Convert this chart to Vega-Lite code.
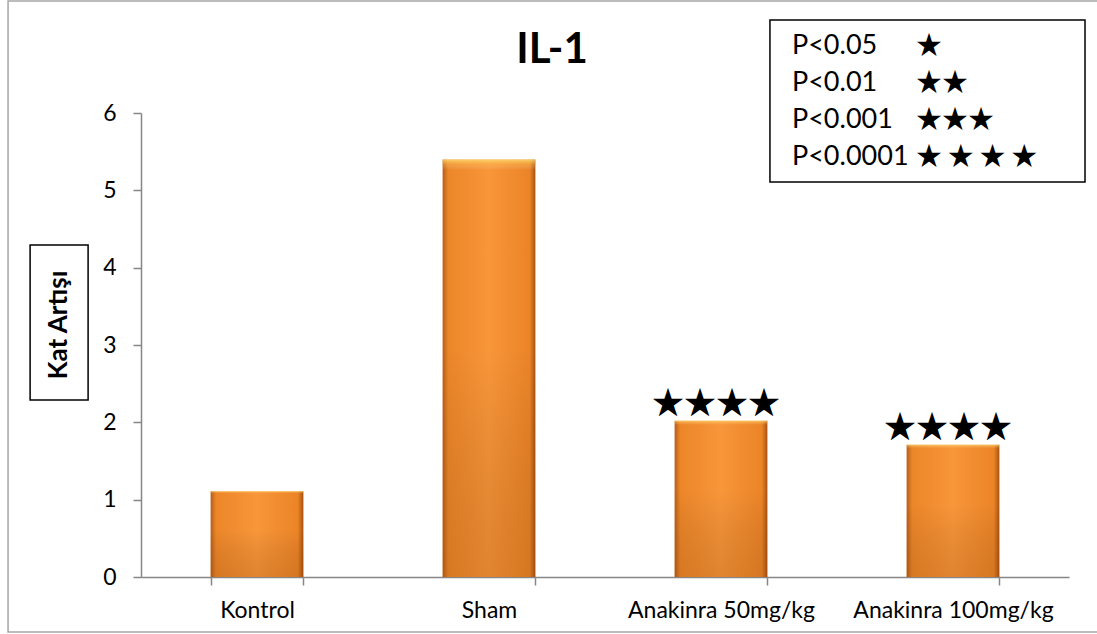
{
  "$schema": "https://vega.github.io/schema/vega-lite/v6.json",
  "width": 928,
  "height": 464,
  "autosize": {"type": "none"},
  "padding": {"left": 141, "top": 113, "right": 28, "bottom": 57},
  "background": "white",
  "config": {
    "view": {"stroke": null},
    "font": "Lato",
    "axis": {
      "domainColor": "#868686",
      "tickColor": "#868686",
      "domainWidth": 1.5,
      "tickWidth": 1.5,
      "tickSize": 8,
      "labelFont": "Lato",
      "labelFontSize": 23,
      "labelLimit": 0,
      "labelColor": "#000000",
      "grid": false,
      "title": null
    }
  },
  "datasets": {
    "bars": [
      {"group": "Kontrol", "value": 1.11, "stars": ""},
      {"group": "Sham", "value": 5.4, "stars": ""},
      {"group": "Anakinra 50mg/kg", "value": 2.02, "stars": "★★★★"},
      {"group": "Anakinra 100mg/kg", "value": 1.71, "stars": "★★★★"}
    ],
    "legend": [
      {"label": "P<0.05", "stars": "★"},
      {"label": "P<0.01", "stars": "★★"},
      {"label": "P<0.001", "stars": "★★★"},
      {"label": "P<0.0001", "stars": "★ ★ ★ ★"}
    ],
    "one": [{"title": "IL-1", "ytitle": "Kat Artışı"}]
  },
  "layer": [
    {
      "data": {"name": "one"},
      "mark": {"type": "rect", "fill": null, "stroke": "#A6A6A6", "strokeWidth": 1.5},
      "encoding": {
        "x": {"datum": -0.573, "type": "quantitative", "scale": {"domain": [0, 4], "nice": false, "zero": false}, "axis": null},
        "x2": {"datum": 4.3},
        "y": {"datum": 7.448, "type": "quantitative", "scale": {"domain": [0, 6], "nice": false, "zero": false}, "axis": null},
        "y2": {"datum": -0.711}
      }
    },
    {
      "data": {"name": "bars"},
      "mark": {
        "type": "bar",
        "color": {
          "gradient": "linear", "x1": 0, "y1": 0, "x2": 1, "y2": 0,
          "stops": [
            {"offset": 0, "color": "#B95D16"},
            {"offset": 0.06, "color": "#EC8629"},
            {"offset": 0.5, "color": "#F8963A"},
            {"offset": 0.94, "color": "#EB8427"},
            {"offset": 1, "color": "#A9520F"}
          ]
        }
      },
      "encoding": {
        "x": {
          "field": "group", "type": "nominal", "sort": null,
          "scale": {"paddingInner": 0.6, "paddingOuter": 0.3},
          "axis": {"tickBand": "extent", "labelAngle": 0, "labelPadding": 14}
        },
        "y": {
          "field": "value", "type": "quantitative",
          "scale": {"domain": [0, 6], "nice": false},
          "axis": {"values": [0, 1, 2, 3, 4, 5, 6], "labelPadding": 17}
        }
      }
    },
    {
      "data": {"name": "bars"},
      "mark": {
        "type": "bar",
        "color": {
          "gradient": "linear", "x1": 0, "y1": 0, "x2": 0, "y2": 1,
          "stops": [
            {"offset": 0, "color": "rgba(255,225,120,0.8)"},
            {"offset": 0.012, "color": "rgba(255,210,100,0.3)"},
            {"offset": 0.025, "color": "rgba(255,255,255,0)"},
            {"offset": 0.45, "color": "rgba(0,0,0,0)"},
            {"offset": 1, "color": "rgba(110,45,0,0.16)"}
          ]
        }
      },
      "encoding": {
        "x": {"field": "group", "type": "nominal", "sort": null, "scale": {"paddingInner": 0.6, "paddingOuter": 0.3}, "axis": null},
        "y": {"field": "value", "type": "quantitative", "scale": {"domain": [0, 6], "nice": false}, "axis": null}
      }
    },
    {
      "data": {"name": "bars"},
      "mark": {"type": "text", "font": "Noto Sans CJK JP", "fontSize": 32, "baseline": "alphabetic", "dy": -7, "dx": -5, "color": "#000000"},
      "encoding": {
        "x": {"field": "group", "type": "nominal", "sort": null, "scale": {"paddingInner": 0.6, "paddingOuter": 0.3}, "axis": null},
        "y": {"field": "value", "type": "quantitative", "scale": {"domain": [0, 6], "nice": false}, "axis": null},
        "text": {"field": "stars"}
      }
    },
    {
      "data": {"name": "one"},
      "mark": {"type": "rect", "fill": "white", "stroke": "#000000", "strokeWidth": 1.5},
      "encoding": {
        "x": {"datum": 2.711, "type": "quantitative", "scale": {"domain": [0, 4], "nice": false, "zero": false}, "axis": null},
        "x2": {"datum": 4.069},
        "y": {"datum": 7.203, "type": "quantitative", "scale": {"domain": [0, 6], "nice": false, "zero": false}, "axis": null},
        "y2": {"datum": 5.108}
      }
    },
    {
      "data": {"name": "legend"},
      "mark": {"type": "text", "font": "Lato", "fontSize": 27, "align": "left", "baseline": "middle", "color": "#000000"},
      "encoding": {
        "x": {"datum": 2.806, "type": "quantitative", "scale": {"domain": [0, 4], "nice": false, "zero": false}, "axis": null},
        "y": {"field": "label", "type": "nominal", "sort": null, "scale": {"type": "point", "range": [-67, 44], "padding": 0}, "axis": null},
        "text": {"field": "label"}
      }
    },
    {
      "data": {"name": "legend"},
      "mark": {"type": "text", "font": "Noto Sans CJK JP", "fontSize": 26, "align": "left", "baseline": "middle", "dy": 0, "color": "#000000"},
      "encoding": {
        "x": {"datum": 3.34, "type": "quantitative", "scale": {"domain": [0, 4], "nice": false, "zero": false}, "axis": null},
        "y": {"field": "label", "type": "nominal", "sort": null, "scale": {"type": "point", "range": [-67, 44], "padding": 0}, "axis": null},
        "text": {"field": "stars"}
      }
    },
    {
      "data": {"name": "one"},
      "mark": {"type": "text", "font": "Lato", "fontSize": 42, "fontWeight": "bold", "align": "center", "baseline": "middle", "color": "#000000"},
      "encoding": {
        "x": {"datum": 1.772, "type": "quantitative", "scale": {"domain": [0, 4], "nice": false, "zero": false}, "axis": null},
        "y": {"datum": 6.815, "type": "quantitative", "scale": {"domain": [0, 6], "nice": false, "zero": false}, "axis": null},
        "text": {"field": "title"}
      }
    },
    {
      "data": {"name": "one"},
      "mark": {"type": "rect", "fill": "white", "stroke": "#000000", "strokeWidth": 1.5},
      "encoding": {
        "x": {"datum": -0.478, "type": "quantitative", "scale": {"domain": [0, 4], "nice": false, "zero": false}, "axis": null},
        "x2": {"datum": -0.228},
        "y": {"datum": 4.293, "type": "quantitative", "scale": {"domain": [0, 6], "nice": false, "zero": false}, "axis": null},
        "y2": {"datum": 2.289}
      }
    },
    {
      "data": {"name": "one"},
      "mark": {"type": "text", "font": "Lato", "fontSize": 26, "fontWeight": "bold", "angle": 270, "align": "center", "baseline": "middle", "color": "#000000"},
      "encoding": {
        "x": {"datum": -0.353, "type": "quantitative", "scale": {"domain": [0, 4], "nice": false, "zero": false}, "axis": null},
        "y": {"datum": 3.259, "type": "quantitative", "scale": {"domain": [0, 6], "nice": false, "zero": false}, "axis": null},
        "text": {"field": "ytitle"}
      }
    }
  ],
  "resolve": {"scale": {"x": "independent", "y": "independent"}}
}
